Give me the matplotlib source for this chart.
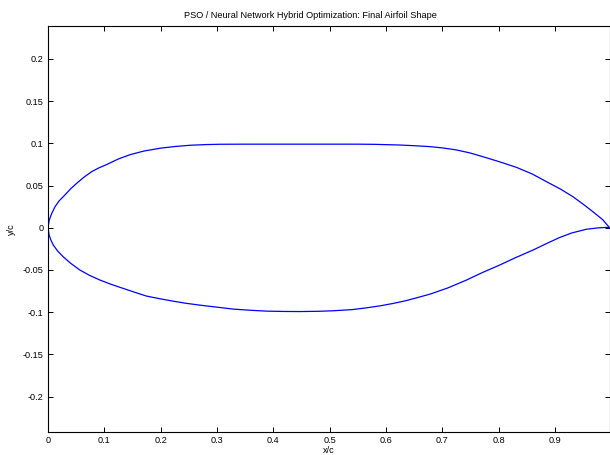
import matplotlib
matplotlib.use("Agg")
import matplotlib.pyplot as plt

# Upper surface (leading edge -> trailing edge)
x_upper = [0.0, 0.002, 0.006, 0.0124, 0.02, 0.030, 0.040, 0.051, 0.064, 0.0775,
           0.09, 0.104, 0.125, 0.1455, 0.17, 0.199, 0.225, 0.252, 0.28, 0.305,
           0.35, 0.40, 0.45, 0.50, 0.55, 0.58, 0.6245, 0.65, 0.678, 0.70,
           0.725, 0.75, 0.772, 0.80, 0.8316, 0.86, 0.885, 0.91, 0.932, 0.95,
           0.9675, 0.985, 0.997]
y_upper = [0.0, 0.0085, 0.016, 0.0249, 0.032, 0.0388, 0.046, 0.0527, 0.060, 0.0664,
           0.0708, 0.0748, 0.0815, 0.0865, 0.0908, 0.0942, 0.0962, 0.0977, 0.0985, 0.0989,
           0.0990, 0.0990, 0.0990, 0.0990, 0.0990, 0.0988, 0.0980, 0.0972, 0.0961, 0.0946,
           0.0922, 0.0885, 0.0842, 0.0785, 0.0716, 0.0636, 0.0546, 0.0458, 0.0368, 0.0280,
           0.0190, 0.0095, 0.0]

# Lower surface (leading edge -> trailing edge)
x_lower = [0.0, 0.002, 0.005, 0.0094, 0.017, 0.027, 0.04, 0.0568, 0.074, 0.0923,
           0.112, 0.1336, 0.155, 0.175, 0.2, 0.2223, 0.245, 0.2697, 0.305, 0.329,
           0.36, 0.388, 0.42, 0.447, 0.48, 0.506, 0.54, 0.5655, 0.59, 0.6127,
           0.635, 0.657, 0.68, 0.71, 0.743, 0.77, 0.802, 0.83, 0.861, 0.885,
           0.908, 0.93, 0.956, 0.975, 0.991, 0.997]
y_lower = [0.0, -0.0085, -0.0145, -0.0205, -0.0275, -0.0344, -0.042, -0.0502, -0.0565, -0.062,
           -0.067, -0.0719, -0.0767, -0.081, -0.0843, -0.087, -0.0895, -0.0917, -0.0945, -0.0964,
           -0.0978, -0.0988, -0.0992, -0.0993, -0.099, -0.0984, -0.097, -0.0949, -0.0925, -0.0897,
           -0.0865, -0.0826, -0.0783, -0.0713, -0.062, -0.0535, -0.0442, -0.0355, -0.0265, -0.0188,
           -0.0117, -0.0062, -0.0018, -0.0003, 0.0004, 0.0]

x_ticks = [0, 0.1, 0.2, 0.3, 0.4, 0.5, 0.6, 0.7, 0.8, 0.9]
x_tick_labels = ["0", "0.1", "0.2", "0.3", "0.4", "0.5", "0.6", "0.7", "0.8", "0.9"]
y_ticks = [-0.2, -0.15, -0.1, -0.05, 0, 0.05, 0.1, 0.15, 0.2]
y_tick_labels = ["-0.2", "-0.15", "-0.1", "-0.05", "0", "0.05", "0.1", "0.15", "0.2"]

title = "PSO / Neural Network Hybrid Optimization: Final Airfoil Shape"

plt.rcParams['font.family'] = ['Liberation Sans', 'DejaVu Sans']
fs = 6.6

fig = plt.figure(figsize=(6.10, 4.55), dpi=100)
ax = fig.add_axes([48/610, 23/455, 561.5/610, 406/455])

xs = list(x_upper[::-1]) + list(x_lower[1:])
ys = list(y_upper[::-1]) + list(y_lower[1:])
ax.plot(xs, ys, color=(0, 0, 1), lw=0.9, solid_joinstyle='round')

ax.set_xlim(0, 0.997)
ax.set_ylim(-0.242, 0.239)
ax.set_xticks(x_ticks)
ax.set_xticklabels(x_tick_labels)
ax.set_yticks(y_ticks)
ax.set_yticklabels(y_tick_labels)
ax.tick_params(direction='in', length=3.5, width=0.7, top=True, right=True,
               labelsize=fs, pad=3, colors='black')
for s in ax.spines.values():
    s.set_linewidth(0.8)

ax.set_xlabel("x/c", fontsize=fs, labelpad=0.5)
ax.set_ylabel("y/c", fontsize=fs, labelpad=5)
ax.set_title(title, fontsize=fs, x=0.467, pad=6)

fig.savefig("out.png", dpi=100)
